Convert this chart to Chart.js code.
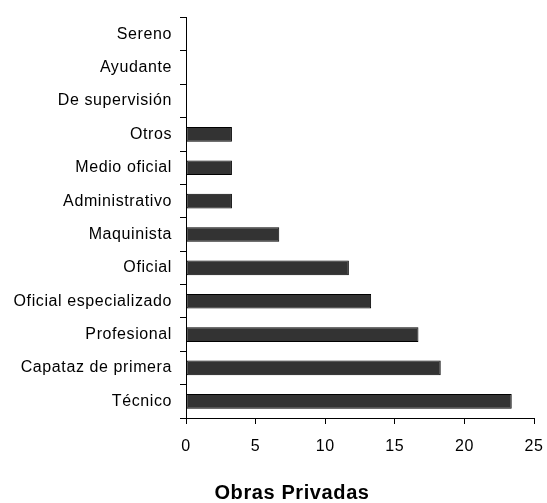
<html lang="es">
<head>
  <meta charset="UTF-8" />
  <title>Obras Privadas</title>
  <script src="https://cdn.jsdelivr.net/npm/chart.js"></script>
  <style>
    html, body { margin: 0; padding: 0; background: #fff; }
    #wrap { width: 547px; height: 503px; }
  </style>
</head>
<body>
  <div id="wrap"><canvas id="chart" width="547" height="503"></canvas></div>
  <script>
    // puestos, de arriba hacia abajo
    const categories = [
      'Sereno', 'Ayudante', 'De supervisión', 'Otros', 'Medio oficial',
      'Administrativo', 'Maquinista', 'Oficial', 'Oficial especializado',
      'Profesional', 'Capataz de primera', 'Técnico'
    ];
    const values = [0, 0, 0, 3.3, 3.3, 3.3, 6.7, 11.7, 13.3, 16.7, 18.3, 23.4];
    const xTicks = [0, 5, 10, 15, 20, 25];
    const chartTitle = 'Obras Privadas';

    const spacing = {
      id: 'spacing',
      beforeDraw(chart) { chart.ctx.letterSpacing = '0.6px'; },
      // el título no va centrado en el lienzo, sino algo a la izquierda
      afterLayout(chart) {
        chart.titleBlock.left = 37;
        chart.titleBlock.right = 547;
      }
    };

    new Chart(document.getElementById('chart').getContext('2d'), {
      type: 'bar',
      data: {
        labels: categories,
        datasets: [{
          data: values,
          backgroundColor: '#333333',
          borderColor: '#000000',
          borderWidth: 1,
          borderSkipped: false,
          barPercentage: 0.44,
          categoryPercentage: 1
        }]
      },
      options: {
        indexAxis: 'y',
        responsive: false,
        animation: false,
        layout: { padding: { left: 0, right: 13, top: 15, bottom: 0 } },
        plugins: {
          legend: { display: false },
          tooltip: { enabled: false },
          title: {
            display: true,
            text: chartTitle,
            position: 'bottom',
            color: '#000',
            font: { family: 'Liberation Sans, Arial, sans-serif', size: 20, weight: 'bold', lineHeight: 1 },
            padding: { top: 0, bottom: 0 }
          }
        },
        scales: {
          x: {
            min: xTicks[0],
            max: xTicks[xTicks.length - 1],
            afterBuildTicks(scale) { scale.ticks = xTicks.map(v => ({ value: v })); },
            afterFit(scale) {
              scale.height = 65;
              scale.paddingLeft = 0;
              scale.paddingRight = 0;
            },
            border: { display: true, color: '#000', width: 1 },
            grid: { drawOnChartArea: false, tickLength: 6, color: '#000' },
            ticks: {
              color: '#000',
              padding: 13,
              maxRotation: 0,
              font: { family: 'Liberation Sans, Arial, sans-serif', size: 16 }
            }
          },
          y: {
            afterFit(scale) { scale.width = 186; },
            border: { display: true, color: '#000', width: 1 },
            grid: { drawOnChartArea: false, tickLength: 6, color: '#000', offset: true },
            ticks: {
              color: '#000',
              padding: 8,
              autoSkip: false,
              font: { family: 'Liberation Sans, Arial, sans-serif', size: 16 }
            }
          }
        }
      },
      plugins: [spacing]
    });
  </script>
</body>
</html>
